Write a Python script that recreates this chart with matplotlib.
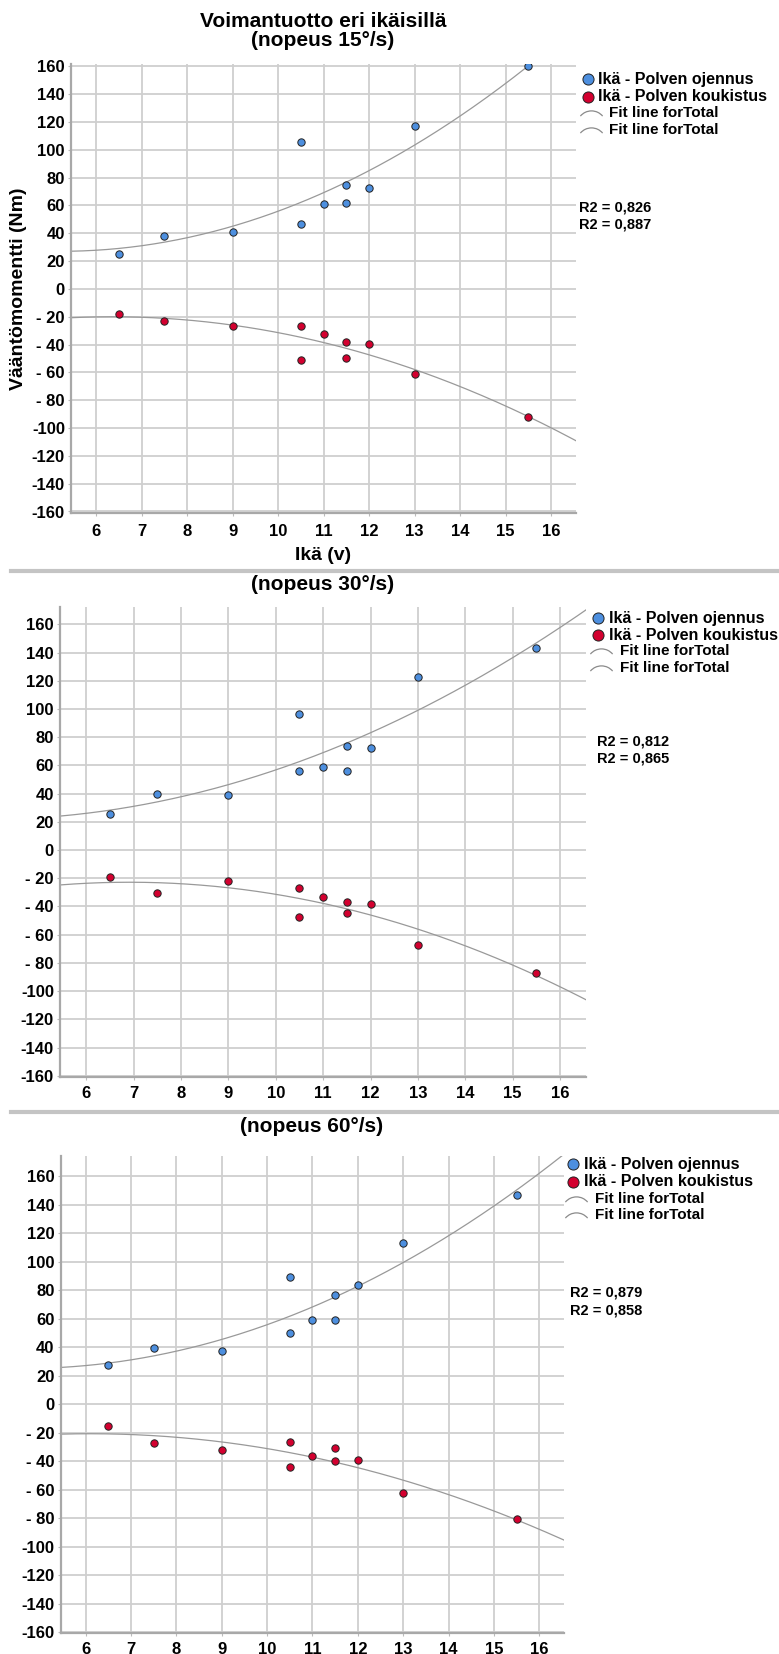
import matplotlib
matplotlib.use("Agg")
import matplotlib.pyplot as plt
from matplotlib.lines import Line2D
from matplotlib.path import Path
import numpy as np

plt.rcParams['font.family'] = ['Liberation Sans', 'DejaVu Sans']
plt.rcParams['font.weight'] = 'bold'

# data
ika = [6.5, 7.5, 9, 10.5, 10.5, 11, 11.5, 11.5, 12, 13, 15.5]

ojennus_15 = [25.3, 37.9, 41.2, 105.5, 46.7, 61.0, 74.3, 61.9, 72.6, 116.9, 160.0]
koukistus_15 = [-18.1, -22.9, -26.5, -26.7, -51.0, -32.2, -38.2, -49.8, -39.4, -61.3, -92.3]

ojennus_30 = [25.7, 40.0, 39.3, 96.7, 56.0, 58.8, 73.4, 56.0, 72.2, 122.8, 143.0]
koukistus_30 = [-19.4, -30.7, -22.2, -26.9, -47.5, -33.5, -37.1, -44.4, -38.0, -67.1, -87.0]

ojennus_60 = [27.7, 39.5, 37.5, 89.5, 49.9, 59.1, 77.0, 59.3, 83.6, 113.5, 147.0]
koukistus_60 = [-15.4, -27.5, -31.9, -26.3, -44.3, -36.6, -30.8, -39.6, -39.4, -62.7, -80.9]

otsikot = ["Voimantuotto eri ikäisillä\n(nopeus 15°/s)", "(nopeus 30°/s)", "(nopeus 60°/s)"]
r2_arvot = [["0,826", "0,887"], ["0,812", "0,865"], ["0,879", "0,858"]]
selitteet = ["Ikä - Polven ojennus", "Ikä - Polven koukistus", "Fit line forTotal", "Fit line forTotal"]

x_ticks = list(range(6, 17))
y_ticks = list(range(-160, 161, 20))

sininen = '#4d8fdf'
punainen = '#d3002f'
harmaa = '#999999'

W, H = 779, 1654
fig = plt.figure(figsize=(W / 100, H / 100), dpi=100)
XLIM = (5.45, 16.55)


def fx(x):
    return x / W


def fy(y):
    return 1 - y / H


def make_axes(x6, x16, y160, ym160, ylim):
    # pixel rows/cols of ticks -> axes rectangle
    ppx = (x16 - x6) / 10
    ppy = (ym160 - y160) / 320
    left = x6 - (6 - XLIM[0]) * ppx
    right = x16 + (XLIM[1] - 16) * ppx
    top = y160 - (ylim[1] - 160) * ppy
    bottom = ym160 + (-160 - ylim[0]) * ppy
    return fig.add_axes([fx(left), fy(bottom), fx(right - left), (bottom - top) / H])


def fmt(v):
    if v < 0 and v > -100:
        return "- %d" % abs(v)
    return "%d" % v


paneelit = [
    dict(oj=ojennus_15, ko=koukistus_15, pos=(96.2, 551.2, 66.2, 511.5), ylim=(-160.8, 161.5), xpad=6.5),
    dict(oj=ojennus_30, ko=koukistus_30, pos=(86.3, 560.0, 624.3, 1075.8), ylim=(-160.8, 172.3), xpad=4.5),
    dict(oj=ojennus_60, ko=koukistus_60, pos=(85.7, 539.3, 1176.4, 1632.0), ylim=(-160.8, 174.0), xpad=4.5),
]

axes = []
for p in paneelit:
    ax = make_axes(*p['pos'], p['ylim'])
    ax.set_xlim(*XLIM)
    ax.set_ylim(*p['ylim'])
    ax.set_xticks(x_ticks)
    ax.set_yticks(y_ticks)
    ax.set_yticklabels([fmt(v) for v in y_ticks])
    ax.tick_params(axis='both', length=2, color='#bbbbbb', labelsize=12)
    ax.tick_params(axis='y', pad=2.5)
    ax.tick_params(axis='x', pad=p['xpad'])
    ax.grid(True, color='#cfcfcf', linewidth=1.3)
    ax.set_axisbelow(True)
    for s in ['top', 'right']:
        ax.spines[s].set_visible(False)
    for s in ['left', 'bottom']:
        ax.spines[s].set_color('#a8a8a8')
        ax.spines[s].set_linewidth(1.6)

    xs = np.linspace(XLIM[0], XLIM[1], 300)
    for ys in [p['oj'], p['ko']]:
        k = np.polyfit(ika, ys, 2)
        ax.plot(xs, np.polyval(k, xs), color=harmaa, linewidth=0.9, zorder=2)
    ax.scatter(ika, p['oj'], s=28, color=sininen, edgecolor='#222222', linewidth=0.7, zorder=3)
    ax.scatter(ika, p['ko'], s=28, color=punainen, edgecolor='#222222', linewidth=0.7, zorder=3)
    axes.append(ax)

# titles
fig.text(fx(323), fy(26.7), "Voimantuotto eri ikäisillä", ha='center', va='baseline', fontsize=15)
fig.text(fx(323), fy(46.5), "(nopeus 15°/s)", ha='center', va='baseline', fontsize=15)
fig.text(fx(323), fy(589.5), otsikot[1], ha='center', va='baseline', fontsize=15)
fig.text(fx(312), fy(1131.5), otsikot[2], ha='center', va='baseline', fontsize=15)

# axis labels (only first panel)
fig.text(fx(19), fy(289), "Vääntömomentti (Nm)", rotation=90, ha='center', va='center', fontsize=14)
fig.text(fx(323), fy(555), "Ikä (v)", ha='center', va='center', fontsize=14)

# separators
for y in [570.7, 1111.7]:
    fig.add_artist(Line2D([fx(11), 1.0], [fy(y), fy(y)], transform=fig.transFigure,
                          color='#c4c4c4', linewidth=3))

# legend symbol for fit line: small arc
arc = Path.arc(40, 140)
verts = arc.vertices.copy()
verts[:, 1] -= (verts[:, 1].max() + verts[:, 1].min()) / 2
arc_marker = Path(verts, arc.codes)

legend_pos = [
    dict(mx=588.3, tx=598.3, rows=[79.3, 96.7, 113.0, 129.5], ax_=591, ftx=609, rx=579, ry=[207.3, 224.7]),
    dict(mx=598.3, tx=609.0, rows=[618.3, 635.0, 651.0, 667.7], ax_=601, ftx=620, rx=596.7, ry=[741.7, 759.0]),
    dict(mx=573.3, tx=584.0, rows=[1164.3, 1182.0, 1199.0, 1215.0], ax_=576, ftx=595, rx=570, ry=[1292.7, 1310.7]),
]

for i, lp in enumerate(legend_pos):
    for j, col in enumerate([sininen, punainen]):
        fig.add_artist(Line2D([fx(lp['mx'])], [fy(lp['rows'][j])], transform=fig.transFigure,
                              marker='o', markersize=8, markerfacecolor=col,
                              markeredgecolor='#222222', markeredgewidth=0.7, linestyle='none'))
        fig.text(fx(lp['tx']), fy(lp['rows'][j]), selitteet[j], ha='left', va='center', fontsize=11.5)
    for j in [2, 3]:
        fig.add_artist(Line2D([fx(lp['ax_'])], [fy(lp['rows'][j])], transform=fig.transFigure,
                              marker=arc_marker, markersize=16, markerfacecolor='none',
                              markeredgecolor='#8a8a8a', markeredgewidth=0.9, linestyle='none'))
        fig.text(fx(lp['ftx']), fy(lp['rows'][j]), selitteet[j], ha='left', va='center', fontsize=11)
    for j in range(2):
        fig.text(fx(lp['rx']), fy(lp['ry'][j]), "R2 = " + r2_arvot[i][j], ha='left', va='center', fontsize=10.5)

fig.savefig("out.png", dpi=100)
